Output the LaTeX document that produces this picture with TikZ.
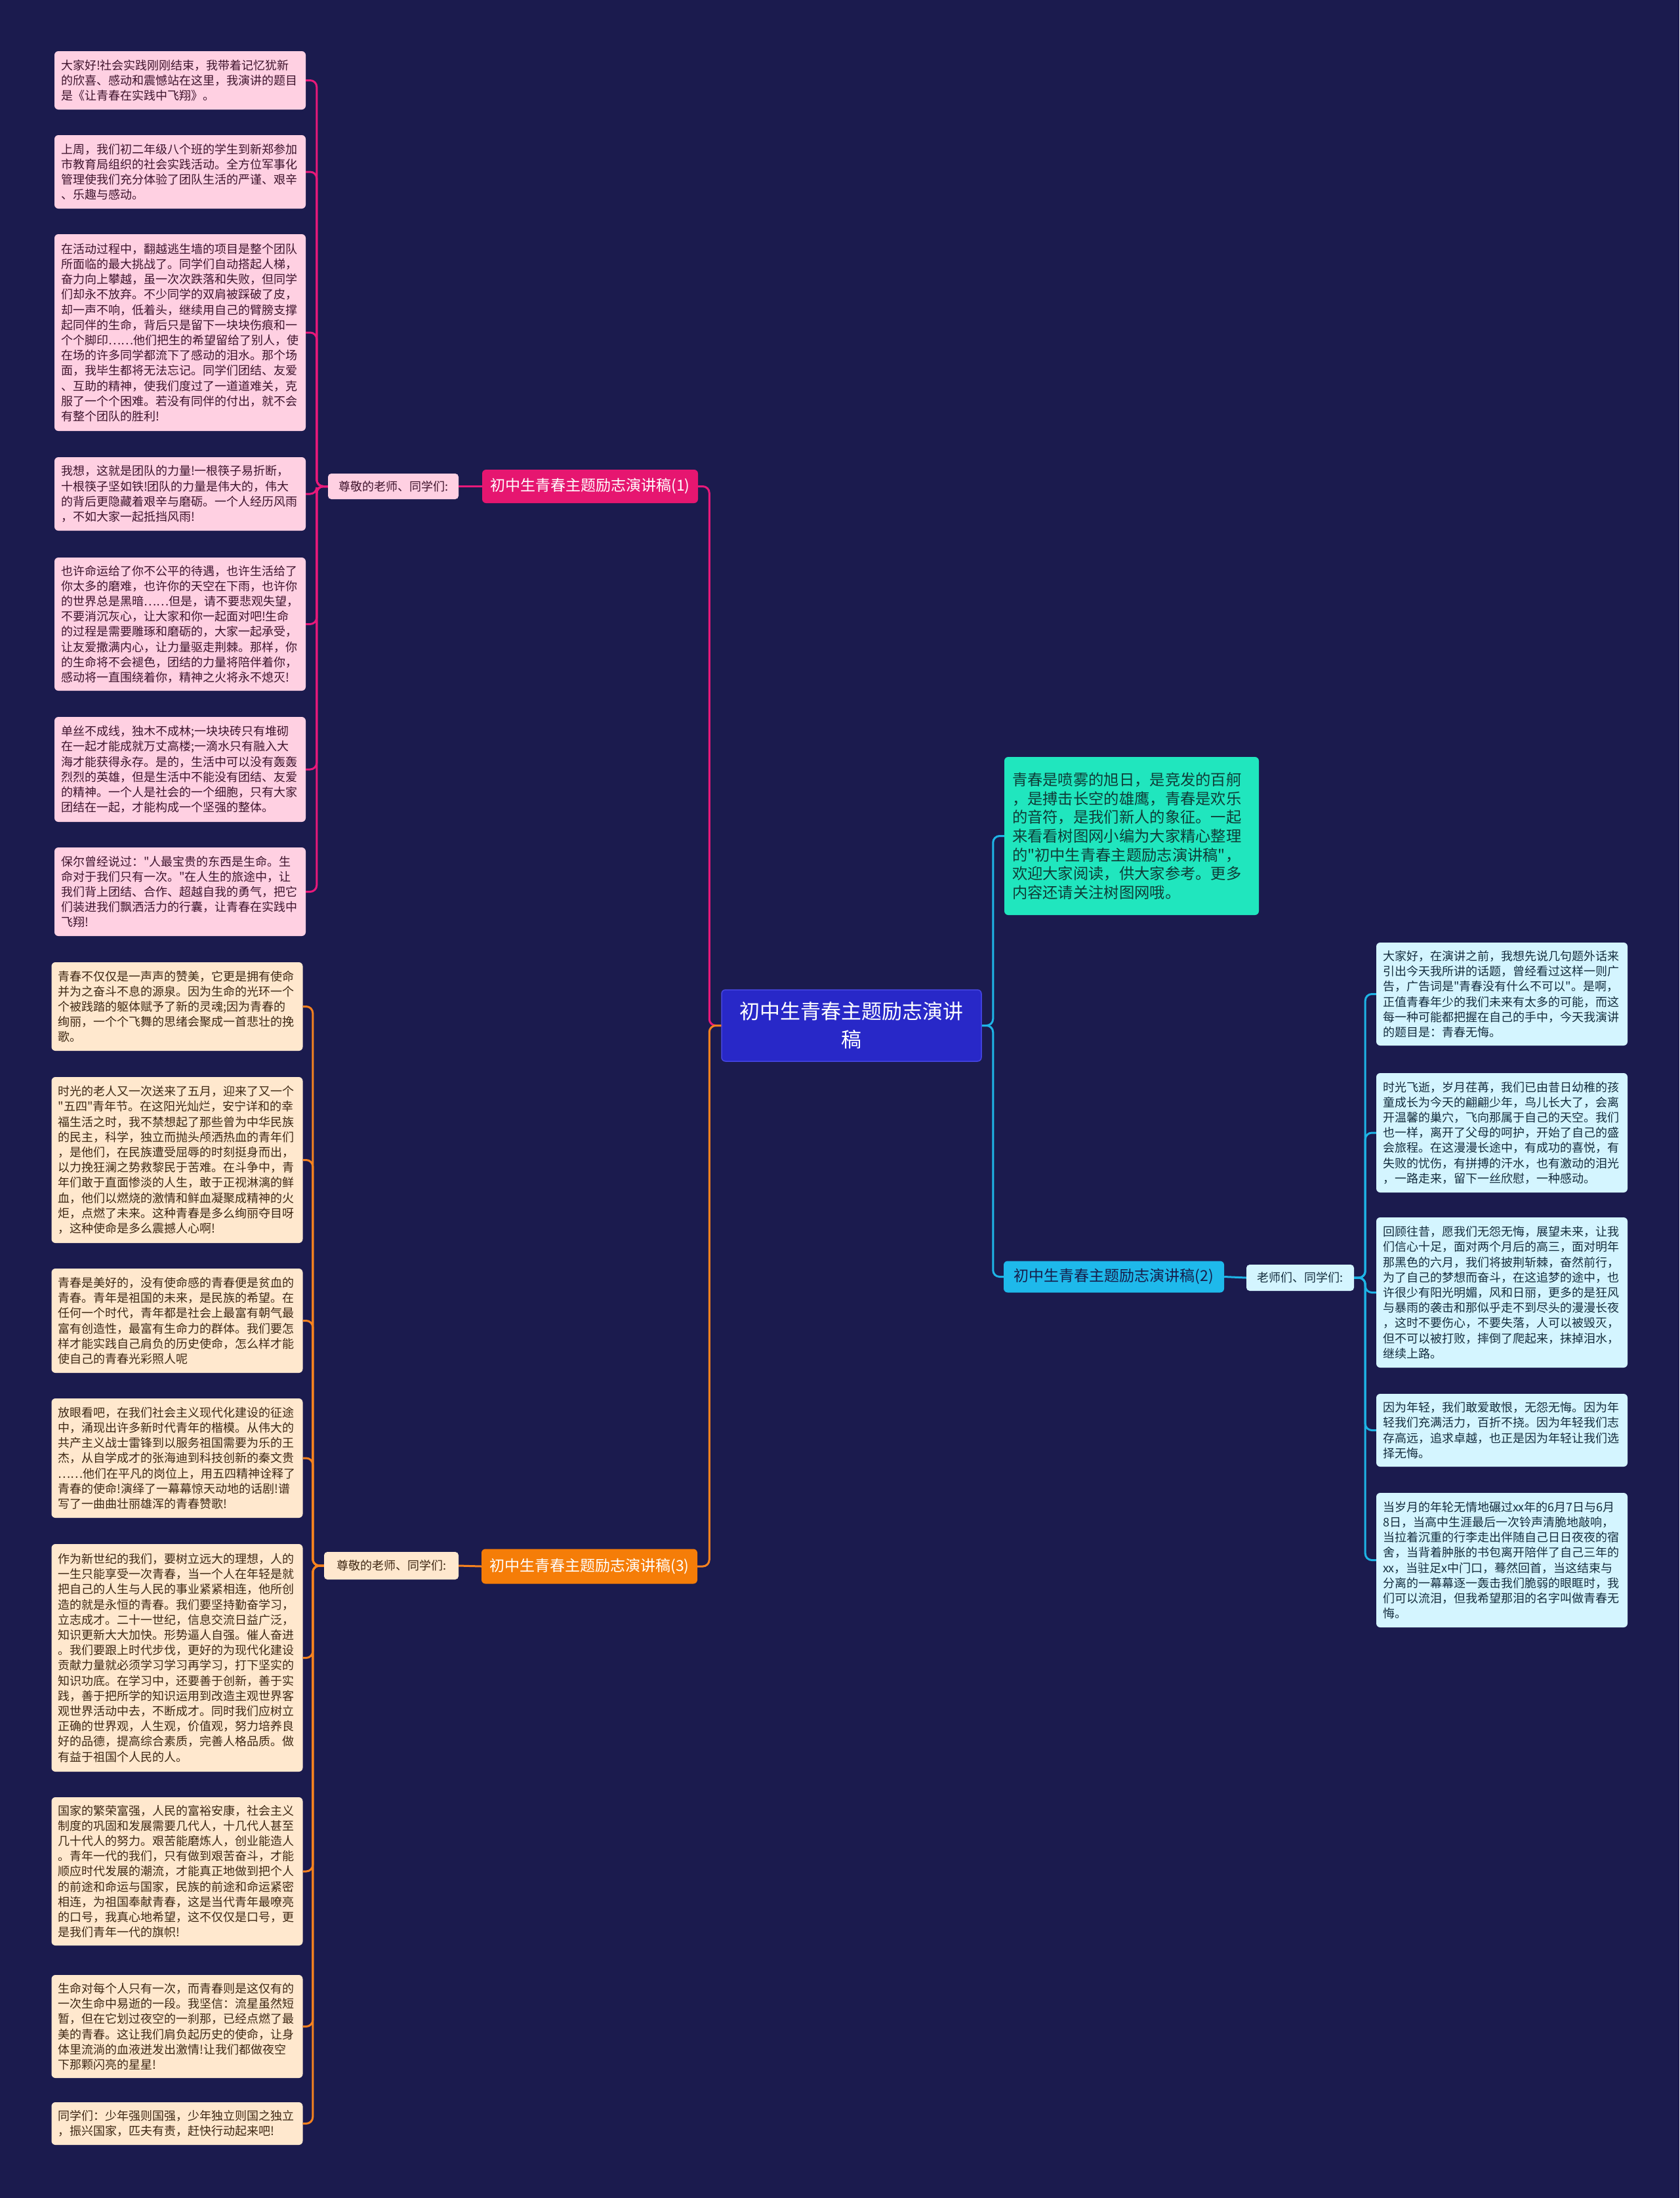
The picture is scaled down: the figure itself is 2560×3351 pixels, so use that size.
\documentclass[tikz,border=0pt]{standalone}
\usepackage{fontspec}
\setmainfont{Noto Sans CJK SC}[Ligatures=TeXOff]
\definecolor{bg}{RGB}{27,27,78}
\definecolor{centerF}{RGB}{40,40,200}
\definecolor{centerD}{RGB}{70,70,225}
\definecolor{magF}{RGB}{230,22,112}
\definecolor{oraF}{RGB}{245,125,8}
\definecolor{cyaF}{RGB}{30,185,235}
\definecolor{introF}{RGB}{32,230,190}
\definecolor{pinkL}{RGB}{255,208,226}
\definecolor{oraL}{RGB}{255,232,206}
\definecolor{cyaL}{RGB}{212,245,255}
\definecolor{pinkT}{RGB}{62,20,45}
\definecolor{oraT}{RGB}{62,40,20}
\definecolor{cyaT}{RGB}{20,45,62}
\definecolor{introT}{RGB}{15,60,55}
\definecolor{navyT}{RGB}{22,30,75}
\definecolor{magE}{RGB}{232,25,122}
\definecolor{oraE}{RGB}{245,130,31}
\definecolor{cyaE}{RGB}{30,180,230}
\begin{document}
\begin{tikzpicture}[x=1pt,y=-1pt,
  leaf/.style={rounded corners=6pt, inner xsep=10pt, inner ysep=0pt, text width=363pt, align=left,
    font=\fontsize{18}{23.2}\selectfont, anchor=center},
  pinkleaf/.style={leaf, fill=pinkL, text=pinkT},
  oraleaf/.style={leaf, fill=oraL, text=oraT},
  cyaleaf/.style={leaf, fill=cyaL, text=cyaT},
  branchbox/.style={rounded corners=6pt, inner sep=0pt, minimum width=329pt, minimum height=51pt,
    font=\fontsize{23}{28}\selectfont},
  labelbox/.style={rounded corners=5pt, inner sep=0pt, minimum height=39pt,
    font=\fontsize{18}{22}\selectfont},
  edge/.style={line width=3pt, rounded corners=10pt},
  e1/.style={edge, draw=magE},
  e3/.style={edge, draw=oraE},
  e2/.style={edge, draw=cyaE}
]
\fill[bg] (0,0) rectangle (2560,3351);
\useasboundingbox (0,0) rectangle (2560,3351);

% center
\node[fill=centerF, draw=centerD, line width=1.5pt, rounded corners=6pt, text=white, align=center,
  minimum width=396pt, minimum height=109pt, inner sep=0pt, font=\fontsize{31}{43}\selectfont]
  (C) at (1298,1563.5) {初中生青春主题励志演讲\\稿};

% branches
\node[branchbox, fill=magF, text=white] (B1) at (899.5,741.5) {初中生青春主题励志演讲稿(1)};
\node[branchbox, fill=oraF, text=white, minimum height=53pt] (B3) at (898.5,2388) {初中生青春主题励志演讲稿(3)};
\node[branchbox, fill=cyaF, text=navyT, minimum width=336pt, minimum height=48pt] (B2) at (1698,1946.5) {初中生青春主题励志演讲稿(2)};

% labels
\node[labelbox, fill=pinkL, text=pinkT, minimum width=199pt] (L1) at (599.5,741.5) {尊敬的老师、同学们:};
\node[labelbox, fill=oraL, text=oraT, minimum width=205pt, minimum height=42pt] (L3) at (596.5,2387) {尊敬的老师、同学们:};
\node[labelbox, fill=cyaL, text=cyaT, minimum width=164pt, minimum height=40pt] (L2) at (1982,1948) {老师们、同学们:};

% intro
\node[rounded corners=6pt, fill=introF, text=introT, inner xsep=12pt, inner ysep=0pt, text width=364pt,
  align=left, minimum height=241pt, font=\fontsize{23.3}{28.7}\selectfont] (I) at (1725,1274.5)
{青春是喷雾的旭日，是竞发的百舸\\
，是搏击长空的雄鹰，青春是欢乐\\
的音符，是我们新人的象征。一起\\
来看看树图网小编为大家精心整理\\
的"初中生青春主题励志演讲稿"，\\
欢迎大家阅读，供大家参考。更多\\
内容还请关注树图网哦。};

% pink leaves
\node[pinkleaf, minimum height=89pt] (P1) at (274.5,122.5) {大家好!社会实践刚刚结束，我带着记忆犹新\\
的欣喜、感动和震憾站在这里，我演讲的题目\\
是《让青春在实践中飞翔》。};
\node[pinkleaf, minimum height=112pt] (P2) at (274.5,262) {上周，我们初二年级八个班的学生到新郑参加\\
市教育局组织的社会实践活动。全方位军事化\\
管理使我们充分体验了团队生活的严谨、艰辛\\
、乐趣与感动。};
\node[pinkleaf, minimum height=300pt] (P3) at (274.5,507) {在活动过程中，翻越逃生墙的项目是整个团队\\
所面临的最大挑战了。同学们自动搭起人梯，\\
奋力向上攀越，虽一次次跌落和失败，但同学\\
们却永不放弃。不少同学的双肩被踩破了皮，\\
却一声不响，低着头，继续用自己的臂膀支撑\\
起同伴的生命，背后只是留下一块块伤痕和一\\
个个脚印……他们把生的希望留给了别人，使\\
在场的许多同学都流下了感动的泪水。那个场\\
面，我毕生都将无法忘记。同学们团结、友爱\\
、互助的精神，使我们度过了一道道难关，克\\
服了一个个困难。若没有同伴的付出，就不会\\
有整个团队的胜利!};
\node[pinkleaf, minimum height=112pt] (P4) at (274.5,753) {我想，这就是团队的力量!一根筷子易折断，\\
十根筷子坚如铁!团队的力量是伟大的，伟大\\
的背后更隐藏着艰辛与磨砺。一个人经历风雨\\
，不如大家一起抵挡风雨!};
\node[pinkleaf, minimum height=203pt] (P5) at (274.5,951.5) {也许命运给了你不公平的待遇，也许生活给了\\
你太多的磨难，也许你的天空在下雨，也许你\\
的世界总是黑暗……但是，请不要悲观失望，\\
不要消沉灰心，让大家和你一起面对吧!生命\\
的过程是需要雕琢和磨砺的，大家一起承受，\\
让友爱撒满内心，让力量驱走荆棘。那样，你\\
的生命将不会褪色，团结的力量将陪伴着你，\\
感动将一直围绕着你，精神之火将永不熄灭!};
\node[pinkleaf, minimum height=160pt] (P6) at (274.5,1173) {单丝不成线，独木不成林;一块块砖只有堆砌\\
在一起才能成就万丈高楼;一滴水只有融入大\\
海才能获得永存。是的，生活中可以没有轰轰\\
烈烈的英雄，但是生活中不能没有团结、友爱\\
的精神。一个人是社会的一个细胞，只有大家\\
团结在一起，才能构成一个坚强的整体。};
\node[pinkleaf, minimum height=135pt] (P7) at (274.5,1359.5) {保尔曾经说过："人最宝贵的东西是生命。生\\
命对于我们只有一次。"在人生的旅途中，让\\
我们背上团结、合作、超越自我的勇气，把它\\
们装进我们飘洒活力的行囊，让青春在实践中\\
飞翔!};

% orange leaves
\node[oraleaf, minimum height=135pt] (O1) at (270,1534.5) {青春不仅仅是一声声的赞美，它更是拥有使命\\
并为之奋斗不息的源泉。因为生命的光环一个\\
个被践踏的躯体赋予了新的灵魂;因为青春的\\
绚丽，一个个飞舞的思绪会聚成一首悲壮的挽\\
歌。};
\node[oraleaf, minimum height=253pt] (O2) at (270,1768.5) {时光的老人又一次送来了五月，迎来了又一个\\
"五四"青年节。在这阳光灿烂，安宁详和的幸\\
福生活之时，我不禁想起了那些曾为中华民族\\
的民主，科学，独立而抛头颅洒热血的青年们\\
，是他们，在民族遭受屈辱的时刻挺身而出，\\
以力挽狂澜之势救黎民于苦难。在斗争中，青\\
年们敢于直面惨淡的人生，敢于正视淋漓的鲜\\
血，他们以燃烧的激情和鲜血凝聚成精神的火\\
炬，点燃了未来。这种青春是多么绚丽夺目呀\\
，这种使命是多么震撼人心啊!};
\node[oraleaf, minimum height=159pt] (O3) at (270,2013.5) {青春是美好的，没有使命感的青春便是贫血的\\
青春。青年是祖国的未来，是民族的希望。在\\
任何一个时代，青年都是社会上最富有朝气最\\
富有创造性，最富有生命力的群体。我们要怎\\
样才能实践自己肩负的历史使命，怎么样才能\\
使自己的青春光彩照人呢};
\node[oraleaf, minimum height=182pt] (O4) at (270,2223) {放眼看吧，在我们社会主义现代化建设的征途\\
中，涌现出许多新时代青年的楷模。从伟大的\\
共产主义战士雷锋到以服务祖国需要为乐的王\\
杰，从自学成才的张海迪到科技创新的秦文贵\\
……他们在平凡的岗位上，用五四精神诠释了\\
青春的使命!演绎了一幕幕惊天动地的话剧!谱\\
写了一曲曲壮丽雄浑的青春赞歌!};
\node[oraleaf, minimum height=347pt] (O5) at (270,2527.5) {作为新世纪的我们，要树立远大的理想，人的\\
一生只能享受一次青春，当一个人在年轻是就\\
把自己的人生与人民的事业紧紧相连，他所创\\
造的就是永恒的青春。我们要坚持勤奋学习，\\
立志成才。二十一世纪，信息交流日益广泛，\\
知识更新大大加快。形势逼人自强。催人奋进\\
。我们要跟上时代步伐，更好的为现代化建设\\
贡献力量就必须学习学习再学习，打下坚实的\\
知识功底。在学习中，还要善于创新，善于实\\
践，善于把所学的知识运用到改造主观世界客\\
观世界活动中去，不断成才。同时我们应树立\\
正确的世界观，人生观，价值观，努力培养良\\
好的品德，提高综合素质，完善人格品质。做\\
有益于祖国个人民的人。};
\node[oraleaf, minimum height=226pt] (O6) at (270,2853) {国家的繁荣富强，人民的富裕安康，社会主义\\
制度的巩固和发展需要几代人，十几代人甚至\\
几十代人的努力。艰苦能磨炼人，创业能造人\\
。青年一代的我们，只有做到艰苦奋斗，才能\\
顺应时代发展的潮流，才能真正地做到把个人\\
的前途和命运与国家，民族的前途和命运紧密\\
相连，为祖国奉献青春，这是当代青年最嘹亮\\
的口号，我真心地希望，这不仅仅是口号，更\\
是我们青年一代的旗帜!};
\node[oraleaf, minimum height=157pt] (O7) at (270,3089.5) {生命对每个人只有一次，而青春则是这仅有的\\
一次生命中易逝的一段。我坚信：流星虽然短\\
暂，但在它划过夜空的一刹那，已经点燃了最\\
美的青春。这让我们肩负起历史的使命，让身\\
体里流淌的血液迸发出激情!让我们都做夜空\\
下那颗闪亮的星星!};
\node[oraleaf, minimum height=65pt] (O8) at (270,3237.5) {同学们：少年强则国强，少年独立则国之独立\\
，振兴国家，匹夫有责，赶快行动起来吧!};

% cyan leaves
\node[cyaleaf, minimum height=157pt] (R1) at (2289.5,1515.5) {大家好，在演讲之前，我想先说几句题外话来\\
引出今天我所讲的话题，曾经看过这样一则广\\
告，广告词是"青春没有什么不可以"。是啊，\\
正值青春年少的我们未来有太多的可能，而这\\
每一种可能都把握在自己的手中，今天我演讲\\
的题目是：青春无悔。};
\node[cyaleaf, minimum height=182pt] (R2) at (2289.5,1727) {时光飞逝，岁月荏苒，我们已由昔日幼稚的孩\\
童成长为今天的翩翩少年，鸟儿长大了，会离\\
开温馨的巢穴，飞向那属于自己的天空。我们\\
也一样，离开了父母的呵护，开始了自己的盛\\
会旅程。在这漫漫长途中，有成功的喜悦，有\\
失败的忧伤，有拼搏的汗水，也有激动的泪光\\
，一路走来，留下一丝欣慰，一种感动。};
\node[cyaleaf, minimum height=229pt] (R3) at (2289.5,1970.5) {回顾往昔，愿我们无怨无悔，展望未来，让我\\
们信心十足，面对两个月后的高三，面对明年\\
那黑色的六月，我们将披荆斩棘，奋然前行，\\
为了自己的梦想而奋斗，在这追梦的途中，也\\
许很少有阳光明媚，风和日丽，更多的是狂风\\
与暴雨的袭击和那似乎走不到尽头的漫漫长夜\\
，这时不要伤心，不要失落，人可以被毁灭，\\
但不可以被打败，摔倒了爬起来，抹掉泪水，\\
继续上路。};
\node[cyaleaf, minimum height=111pt] (R4) at (2289.5,2180.5) {因为年轻，我们敢爱敢恨，无怨无悔。因为年\\
轻我们充满活力，百折不挠。因为年轻我们志\\
存高远，追求卓越，也正是因为年轻让我们选\\
择无悔。};
\node[cyaleaf, minimum height=205pt] (R5) at (2289.5,2378.5) {当岁月的年轮无情地碾过xx年的6月7日与6月\\
8日，当高中生涯最后一次铃声清脆地敲响，\\
当拉着沉重的行李走出伴随自己日日夜夜的宿\\
舍，当背着肿胀的书包离开陪伴了自己三年的\\
xx，当驻足x中门口，蓦然回首，当这结束与\\
分离的一幕幕逐一轰击我们脆弱的眼眶时，我\\
们可以流泪，但我希望那泪的名字叫做青春无\\
悔。};

% connectors
\draw[e1] (C.west) -- ++(-18,0) |- (B1.east);
\draw[e3] (C.west) -- ++(-18,0) |- (B3.east);
\draw[e2] (C.east) -- ++(17,0) |- (I.west);
\draw[e2] (C.east) -- ++(17,0) |- (B2.west);

\draw[e1] (B1.west) -- (L1.east);
\draw[e3] (B3.west) -- (L3.east);
\draw[e2] (B2.east) -- (L2.west);

\foreach \n in {P1,P2,P3,P4,P5,P6,P7}
  \draw[e1] (L1.west) -- ++(-17,0) |- (\n.east);
\foreach \n in {O1,O2,O3,O4,O5,O6,O7,O8}
  \draw[e3] (L3.west) -- ++(-17,0) |- (\n.east);
\foreach \n in {R1,R2,R3,R4,R5}
  \draw[e2] (L2.east) -- ++(17,0) |- (\n.west);
\end{tikzpicture}
\end{document}
